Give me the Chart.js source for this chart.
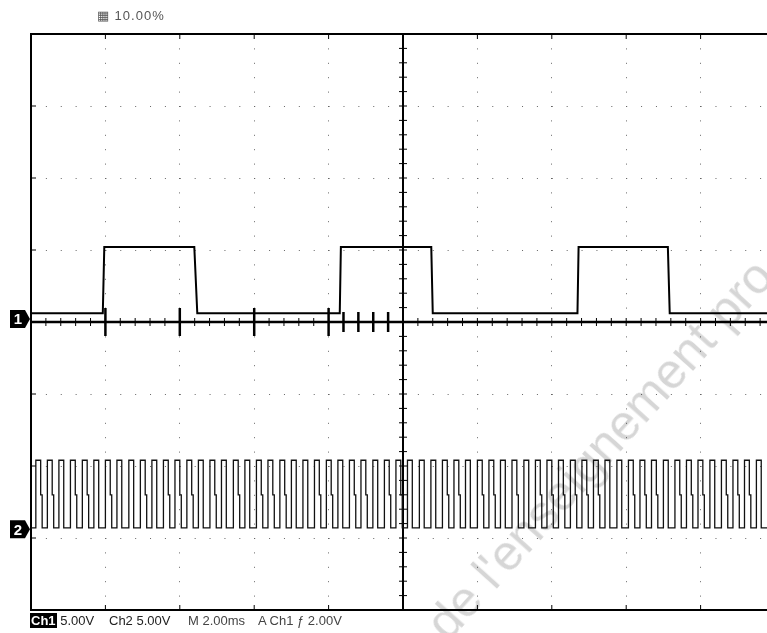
<!DOCTYPE html>
<html>
<head>
<meta charset="utf-8">
<script src="https://cdn.jsdelivr.net/npm/chart.js"></script>
<style>
  html, body { margin:0; padding:0; background:#fff; overflow:hidden; width:767px; height:633px; }
  #wrap { position:absolute; left:0; top:0; width:800px; height:633px; }
  .lbl { position:absolute; font-family:"Liberation Sans", Arial, sans-serif; white-space:nowrap; color:#222; }
  .inv { background:#000; color:#fff; font-weight:bold; padding:0 1px; }
  .wm { position:absolute; font-family:"Liberation Sans", Arial, sans-serif; color:#000; opacity:0.16; white-space:nowrap; transform-origin:0 0; pointer-events:none; }
</style>
</head>
<body>
<div id="wrap"><canvas id="c" width="800" height="633"></canvas></div>

<div class="lbl" style="left:97px; top:8px; font-size:13px; color:#555; letter-spacing:1px;">▦ 10.00%</div>

<div class="lbl" style="left:30px; top:613px; font-size:13px;"><span class="inv">Ch1</span> 5.00V</div>
<div class="lbl" style="left:109px; top:613px; font-size:13px;">Ch2 5.00V</div>
<div class="lbl" style="left:188px; top:613px; font-size:13px; color:#444;">M 2.00ms</div>
<div class="lbl" style="left:258px; top:613px; font-size:13px; color:#444;">A Ch1 ƒ 2.00V</div>

<div class="wm" style="left:414px; top:612px; font-size:50px; transform:rotate(-48deg);">de l'enseignement pro</div>

<script>
// ---- time axis (ms), 2 ms / div ----
const xTicks = [0, 2, 4, 6, 8, 10, 12, 14, 16, 18, 20];

// ---- Ch1 trace (5 V/div), time in ms, volts ----
const ch1Time = [0, 1.93, 1.97, 4.39, 4.47, 8.30, 8.33, 10.76, 10.80, 14.69, 14.72, 17.12, 17.17, 20];
const ch1Volt = [0.6, 0.6, 5.2, 5.2, 0.6, 0.6, 5.2, 5.2, 0.6, 0.6, 5.2, 5.2, 0.6, 0.6];

// ---- Ch2 trace (5 V/div): rising-edge times (ms), pulse width, levels ----
const ch2Rise = [0.13, 0.44, 0.75, 1.06, 1.38, 1.69, 2.00, 2.31, 2.63, 2.94,
                 3.25, 3.56, 3.87, 4.19, 4.50, 4.81, 5.12, 5.44, 5.75, 6.06,
                 6.37, 6.69, 7.00, 7.31, 7.62, 7.94, 8.25, 8.56, 8.87, 9.19,
                 9.50, 9.81, 10.12, 10.44, 10.75, 11.06, 11.37, 11.68, 12.00, 12.31,
                 12.62, 12.93, 13.25, 13.56, 13.87, 14.18, 14.50, 14.81, 15.12, 15.43,
                 15.75, 16.06, 16.37, 16.68, 17.00, 17.31, 17.62, 17.93, 18.25, 18.56,
                 18.87, 19.18, 19.50, 19.81];
// pulses whose falling edge shows a shoulder at mid level (index into ch2Rise)
const ch2Shoulder = [0, 1, 3, 4, 6, 9, 11, 12, 13, 15, 17, 19, 20, 21, 24, 25, 27, 28, 30, 31,
                     35, 36, 38, 39, 41, 43, 44, 45, 46, 47, 48, 51, 52, 53, 55, 56, 57, 59, 60, 61];
const ch2Width = 0.13;
const ch2ShoulderLen = 0.04;
const ch2High = 4.8;
const ch2Mid = 2.4;
const ch2Low = 0.1;

// ---- cursor marks on Ch1 baseline (ms) ----
const markBig = [2, 4, 6, 8];
const markSmall = [8.4, 8.8, 9.2, 9.6];

// build point tables
const ch1Pts = ch1Time.map((t, i) => ({x: t, y: ch1Volt[i]}));
const ch2Pts = [{x: 0, y: ch2Low}];
ch2Rise.forEach((t, i) => {
  ch2Pts.push({x: t, y: ch2Low}, {x: t, y: ch2High}, {x: t + ch2Width, y: ch2High});
  if (ch2Shoulder.includes(i)) {
    ch2Pts.push({x: t + ch2Width, y: ch2Mid}, {x: t + ch2Width + ch2ShoulderLen, y: ch2Mid},
                {x: t + ch2Width + ch2ShoulderLen, y: ch2Low});
  } else {
    ch2Pts.push({x: t + ch2Width, y: ch2Low});
  }
});
ch2Pts.push({x: 20, y: ch2Low});

const scopePlugin = {
  id: 'scope',
  beforeDatasetsDraw(chart) {
    const {ctx, chartArea: a, scales} = chart;
    const x = scales.x, y = scales.y;
    ctx.save();
    ctx.strokeStyle = '#000';
    // frame
    ctx.lineWidth = 2;
    ctx.beginPath();
    ctx.moveTo(a.left, a.top); ctx.lineTo(a.right, a.top);
    ctx.moveTo(a.left, a.bottom); ctx.lineTo(a.right, a.bottom);
    ctx.moveTo(a.left, a.top - 1); ctx.lineTo(a.left, a.bottom + 1);
    ctx.stroke();
    // major ticks on frame
    ctx.lineWidth = 1;
    ctx.beginPath();
    xTicks.forEach(v => {
      const px = x.getPixelForValue(v);
      ctx.moveTo(px, a.top); ctx.lineTo(px, a.top + 5);
      ctx.moveTo(px, a.bottom); ctx.lineTo(px, a.bottom - 5);
    });
    for (let v = -20; v <= 20; v += 5) {
      const py = y.getPixelForValue(v);
      ctx.moveTo(a.left, py); ctx.lineTo(a.left + 5, py);
    }
    ctx.stroke();
    // center cross
    const cx = x.getPixelForValue((x.min + x.max) / 2);
    const cy = y.getPixelForValue(0);
    ctx.lineWidth = 2.5;
    ctx.beginPath();
    ctx.moveTo(a.left, cy); ctx.lineTo(a.right, cy);
    ctx.stroke();
    ctx.lineWidth = 2;
    ctx.beginPath();
    ctx.moveTo(cx, a.top); ctx.lineTo(cx, a.bottom);
    ctx.stroke();
    // minor ticks on centre lines
    ctx.lineWidth = 1;
    ctx.beginPath();
    for (let v = x.min; v <= x.max + 1e-9; v += 0.4) {
      const px = x.getPixelForValue(v);
      ctx.moveTo(px, cy - 4); ctx.lineTo(px, cy + 4);
    }
    for (let v = y.min; v <= y.max + 1e-9; v += 1) {
      const py = y.getPixelForValue(v);
      ctx.moveTo(cx - 4, py); ctx.lineTo(cx + 4, py);
    }
    ctx.stroke();
    ctx.restore();
  },
  afterDatasetsDraw(chart) {
    const {ctx, chartArea: a, scales} = chart;
    const marker = (py, label) => {
      const l = a.left - 21, r = a.left - 1;
      ctx.save();
      ctx.fillStyle = '#000';
      ctx.beginPath();
      ctx.moveTo(l, py - 9); ctx.lineTo(r - 5, py - 9); ctx.lineTo(r, py);
      ctx.lineTo(r - 5, py + 9); ctx.lineTo(l, py + 9); ctx.closePath();
      ctx.fill();
      ctx.fillStyle = '#fff';
      ctx.font = 'bold 15px "Liberation Sans", Arial, sans-serif';
      ctx.textAlign = 'center';
      ctx.textBaseline = 'middle';
      ctx.fillText(label, l + 8, py + 1);
      ctx.restore();
    };
    marker(scales.y.getPixelForValue(0) - 3, '1');
    marker(scales.y2.getPixelForValue(0), '2');
  }
};

new Chart(document.getElementById('c'), {
  type: 'scatter',
  data: {
    datasets: [
      { label: 'Ch1', data: ch1Pts, showLine: true, borderColor: '#000', borderWidth: 2, pointRadius: 0, yAxisID: 'y' },
      { label: 'Ch2', data: ch2Pts, showLine: true, borderColor: '#111', borderWidth: 1.3, pointRadius: 0, yAxisID: 'y2' },
      { label: 'marks', data: markBig.map(t => ({x: t, y: 0})), pointStyle: 'line', rotation: 90, pointRadius: 14, borderWidth: 2.5, borderColor: '#000', yAxisID: 'y' },
      { label: 'marks2', data: markSmall.map(t => ({x: t, y: 0})), pointStyle: 'line', rotation: 90, pointRadius: 10, borderWidth: 2.5, borderColor: '#000', yAxisID: 'y' }
    ]
  },
  options: {
    responsive: false,
    animation: false,
    events: [],
    layout: { padding: { left: 31, top: 34, right: 25, bottom: 23 } },
    plugins: { legend: { display: false }, tooltip: { enabled: false } },
    elements: { line: { tension: 0 } },
    scales: {
      x: {
        type: 'linear', min: 0, max: 20,
        afterBuildTicks: s => { s.ticks = xTicks.map(v => ({value: v})); },
        ticks: { display: false },
        grid: { color: '#666', lineWidth: 1, drawTicks: false },
        border: { display: false, dash: [1, 13.4] }
      },
      y: {
        type: 'linear', min: -20, max: 20,
        ticks: { display: false, stepSize: 5 },
        grid: { color: '#666', lineWidth: 1, drawTicks: false },
        border: { display: false, dash: [1, 13.88] }
      },
      y2: {
        type: 'linear', min: -5.6, max: 34.4, display: false
      }
    }
  },
  plugins: [scopePlugin]
});
</script>
</body>
</html>
